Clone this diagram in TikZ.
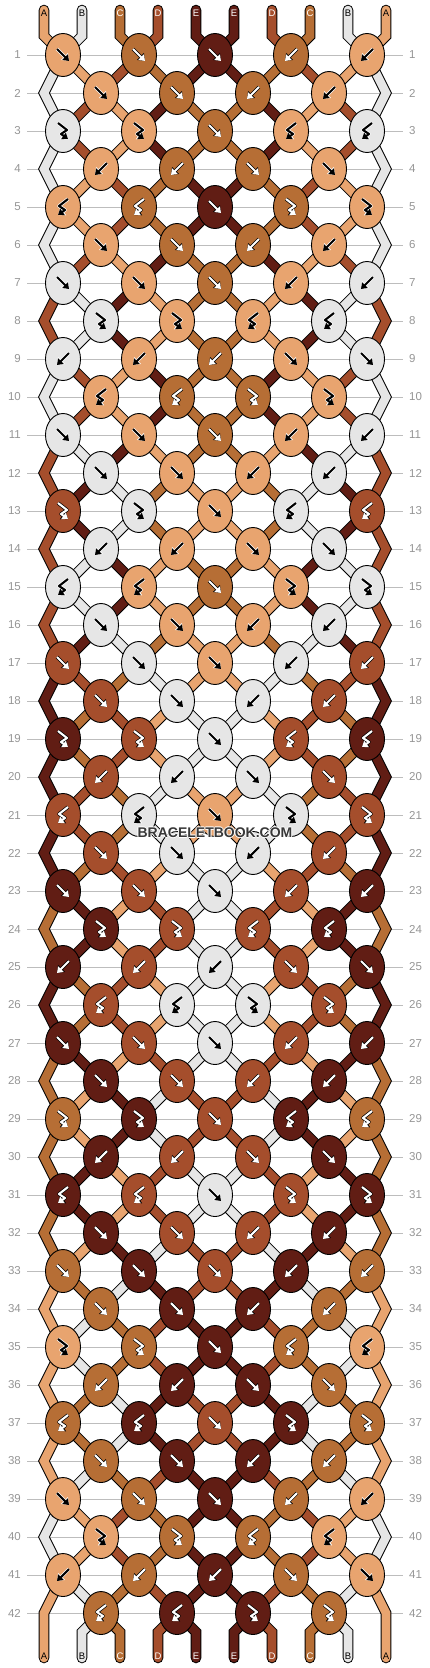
\documentclass[tikz,border=0pt]{standalone}
\usepackage{fontspec}
\setmainfont{Liberation Sans}
\usetikzlibrary{shapes.geometric}
\usetikzlibrary{arrows.meta}

\definecolor{colA}{HTML}{E8A46F}
\definecolor{colB}{HTML}{E6E6E6}
\definecolor{colC}{HTML}{B66E35}
\definecolor{colD}{HTML}{A54E2C}
\definecolor{colE}{HTML}{611D14}
\definecolor{numgray}{HTML}{959595}
\definecolor{linegray}{HTML}{BDBDBD}
\definecolor{wmgray}{HTML}{383838}

\pgfdeclarelayer{grid}
\pgfdeclarelayer{rim}
\pgfdeclarelayer{thread}
\pgfsetlayers{grid,rim,thread,main}

% arrow colour and its edge on each thread colour
\def\arA{black}\def\arB{black}\def\arC{white}\def\arD{white}\def\arE{white}
\def\haA{white}\def\haB{white}\def\haC{black}\def\haD{black}\def\haE{black}

% f forward, b backward, p forward-backward, q backward-forward
\def\symf{(-6,-6) -- (6,6)}
\def\symb{(6,-6) -- (-6,6)}
\def\symp{(-5,-8) -- (4,-1) -- (-2,3) -- (5,8)}
\def\symq{(5,-8) -- (-4,-1) -- (2,3) -- (-5,8)}

% row / thread order before the row / knots of the row
\newcommand\eachrow[1]{\foreach \rw/\pv/\tp in {
  1/{A,B,C,D,E,E,D,C,B,A}/{f,f,f,b,b},
  2/{B,A,D,C,E,E,C,D,A,B}/{f,f,b,b},
  3/{B,D,A,E,C,C,E,A,D,B}/{p,p,f,q,q},
  4/{B,D,A,E,C,C,E,A,D,B}/{b,b,f,f},
  5/{B,A,D,C,E,E,C,D,A,B}/{q,q,f,p,p},
  6/{B,A,D,C,E,E,C,D,A,B}/{f,f,b,b},
  7/{B,D,A,E,C,C,E,A,D,B}/{f,f,f,b,b},
  8/{D,B,E,A,C,C,A,E,B,D}/{p,p,q,q},
  9/{D,B,E,A,C,C,A,E,B,D}/{b,b,b,f,f},
  10/{B,D,A,E,C,C,E,A,D,B}/{q,q,p,p},
  11/{B,D,A,E,C,C,E,A,D,B}/{f,f,f,b,b},
  12/{D,B,E,A,C,C,A,E,B,D}/{f,f,b,b},
  13/{D,E,B,C,A,A,C,B,E,D}/{p,p,f,q,q},
  14/{D,E,B,C,A,A,C,B,E,D}/{b,b,f,f},
  15/{D,B,E,A,C,C,A,E,B,D}/{q,q,f,p,p},
  16/{D,B,E,A,C,C,A,E,B,D}/{f,f,b,b},
  17/{D,E,B,C,A,A,C,B,E,D}/{f,f,f,b,b},
  18/{E,D,C,B,A,A,B,C,D,E}/{f,f,b,b},
  19/{E,C,D,A,B,B,A,D,C,E}/{p,p,f,q,q},
  20/{E,C,D,A,B,B,A,D,C,E}/{b,b,f,f},
  21/{E,D,C,B,A,A,B,C,D,E}/{q,q,f,p,p},
  22/{E,D,C,B,A,A,B,C,D,E}/{f,f,b,b},
  23/{E,C,D,A,B,B,A,D,C,E}/{f,f,f,b,b},
  24/{C,E,A,D,B,B,D,A,E,C}/{p,p,q,q},
  25/{C,E,A,D,B,B,D,A,E,C}/{b,b,b,f,f},
  26/{E,C,D,A,B,B,A,D,C,E}/{q,q,p,p},
  27/{E,C,D,A,B,B,A,D,C,E}/{f,f,f,b,b},
  28/{C,E,A,D,B,B,D,A,E,C}/{f,f,b,b},
  29/{C,A,E,B,D,D,B,E,A,C}/{p,p,f,q,q},
  30/{C,A,E,B,D,D,B,E,A,C}/{b,b,f,f},
  31/{C,E,A,D,B,B,D,A,E,C}/{q,q,f,p,p},
  32/{C,E,A,D,B,B,D,A,E,C}/{f,f,b,b},
  33/{C,A,E,B,D,D,B,E,A,C}/{f,f,f,b,b},
  34/{A,C,B,E,D,D,E,B,C,A}/{f,f,b,b},
  35/{A,B,C,D,E,E,D,C,B,A}/{p,p,f,q,q},
  36/{A,B,C,D,E,E,D,C,B,A}/{b,b,f,f},
  37/{A,C,B,E,D,D,E,B,C,A}/{q,q,f,p,p},
  38/{A,C,B,E,D,D,E,B,C,A}/{f,f,b,b},
  39/{A,B,C,D,E,E,D,C,B,A}/{f,f,f,b,b},
  40/{B,A,D,C,E,E,C,D,A,B}/{p,p,q,q},
  41/{B,A,D,C,E,E,C,D,A,B}/{b,b,b,f,f},
  42/{A,B,C,D,E,E,D,C,B,A}/{q,q,p,p}}{#1}}

% every thread piece, from knot to knot
\newcommand\threads[1]{%
  \eachrow{
    \pgfmathtruncatemacro\ri{\rw}
    \pgfmathtruncatemacro\rp{\rw-1}
    \pgfmathtruncatemacro\rpp{\rw-2}
    \foreach \cl [count=\ps] in \pv {
      \pgfmathtruncatemacro\gc{\ps-mod(\ps,2)-mod(\ri,2)*(1-2*mod(\ps,2))}
      \pgfmathtruncatemacro\gl{\ps-mod(\ps,2)-mod(\rp,2)*(1-2*mod(\ps,2))}
      \pgfmathtruncatemacro\ea{mod(\gl,10)}
      \pgfmathtruncatemacro\eb{mod(\gc,10)}
      \ifnum\ri=1
        \draw[color=col\cl,#1] (u-\ps) -- (t-\ps) -- (n-1-\gc.center);
      \else\ifnum\eb=0
      \else\ifnum\ea=0
        \draw[color=col\cl,#1] (n-\rpp-\gc.center) -- (n-\rp-\gl) -- (n-\ri-\gc.center);
      \else
        \draw[color=col\cl,#1] (n-\rp-\gl.center) -- (n-\ri-\gc.center);
      \fi\fi\fi
    }
  }
  \foreach \cl [count=\ps] in {A,B,C,D,E,E,D,C,B,A} {
    \pgfmathtruncatemacro\gc{\ps-mod(\ps,2)}
    \pgfmathtruncatemacro\eb{mod(\gc,10)}
    \ifnum\eb=0
      \pgfmathtruncatemacro\gl{\gc+1-\gc/5}
      \draw[color=col\cl,#1] (n-41-\gl.center) -- (n-42-\gc) -- (v-\ps);
    \else
      \draw[color=col\cl,#1] (n-42-\gc.center) -- (b-\ps) -- (v-\ps);
    \fi
  }}

\begin{document}
\begin{tikzpicture}[x=1pt,y=-1pt,
  knot/.style={ellipse,draw,line width=0.9pt,minimum width=35pt,minimum height=43pt,inner sep=0pt},
  rimline/.style={line width=10.6pt,line cap=round,color=black},
  threadline/.style={line width=8.6pt,line cap=round},
  aline/.style={line width=2.1pt,line join=round,-{Triangle[length=5.5pt,width=7.5pt]}},
  ahalo/.style={line width=3.5pt,line join=round,-{Triangle[length=6.5pt,width=9.5pt]}},
  rownum/.style={font=\fontsize{11.5}{12}\selectfont,text=numgray,inner sep=0pt},
  rowline/.style={draw=linegray,line width=1pt,shorten <=6pt,shorten >=6pt},
  letter/.style={font=\fontsize{9.5}{10}\selectfont,inner sep=0pt},
  wm/.style={font=\bfseries\fontsize{14}{14}\selectfont,inner sep=0pt,text=wmgray}]
\useasboundingbox (0,0) rectangle (430,1668);

% thread ends
\foreach \cl [count=\ps] in {A,B,C,D,E,E,D,C,B,A} {
  \edef\tc{\csname ar\cl\endcsname}
  \coordinate (u-\ps) at ({6+38*\ps},10);
  \coordinate (t-\ps) at ({6+38*\ps},36);
  \coordinate (b-\ps) at ({6+38*\ps},1632);
  \coordinate (v-\ps) at ({6+38*\ps},1658);
  \node[letter,text=\tc] (top-\ps) at ({6+38*\ps},13) {\cl};
  \node[letter,text=\tc] (bot-\ps) at ({6+38*\ps},1656) {\cl};
}

% knots
\eachrow{
  \pgfmathtruncatemacro\ri{\rw}
  \foreach \cl [count=\ps] in \pv {\expandafter\xdef\csname st\ps\endcsname{\cl}}
  % outer threads turn at the edge in even rows
  \ifodd\ri\else
    \coordinate (n-\ri-0) at (44,{17+38*\ri});
    \coordinate (n-\ri-10) at (386,{17+38*\ri});
  \fi
  \foreach \kt [count=\kn] in \tp {
    \pgfmathtruncatemacro\gk{2*\kn-mod(\ri,2)}
    \def\sh{0}\if\kt b\def\sh{1}\fi\if\kt q\def\sh{1}\fi
    \pgfmathtruncatemacro\lp{\gk+\sh}
    \edef\kc{\csname st\lp\endcsname}
    \edef\kcol{col\kc}
    \edef\ac{\csname ar\kc\endcsname}
    \edef\hc{\csname ha\kc\endcsname}
    \node[knot,fill=\kcol] (n-\ri-\gk) at ({25+38*\gk},{17+38*\ri}) {};
    \expandafter\let\expandafter\sym\csname sym\kt\endcsname
    \begin{scope}[shift={(n-\ri-\gk.center)}]
      \draw[ahalo,color=\hc] \sym;
      \draw[aline,color=\ac] \sym;
    \end{scope}
  }
}

\begin{pgfonlayer}{rim}\threads{rimline}\end{pgfonlayer}
\begin{pgfonlayer}{thread}\threads{threadline}\end{pgfonlayer}

% row numbers and guide lines
\foreach \rw in {1,...,42} {
  \node[rownum,anchor=east] (lft-\rw) at (21,{17+38*\rw}) {\rw};
  \node[rownum,anchor=west] (rgt-\rw) at (409,{17+38*\rw}) {\rw};
}
\begin{pgfonlayer}{grid}
  \foreach \rw in {1,...,42} \draw[rowline] (lft-\rw) -- (rgt-\rw);
\end{pgfonlayer}

\foreach \hx/\hy [count=\hi] in {1/0,-1/0,0/1,0/-1}
  \node[wm,text=white] (wm-\hi) at ({215+\hx},{833+\hy}) {BRACELETBOOK.COM};
\node[wm] (wm) at (215,833) {BRACELETBOOK.COM};
\end{tikzpicture}
\end{document}
